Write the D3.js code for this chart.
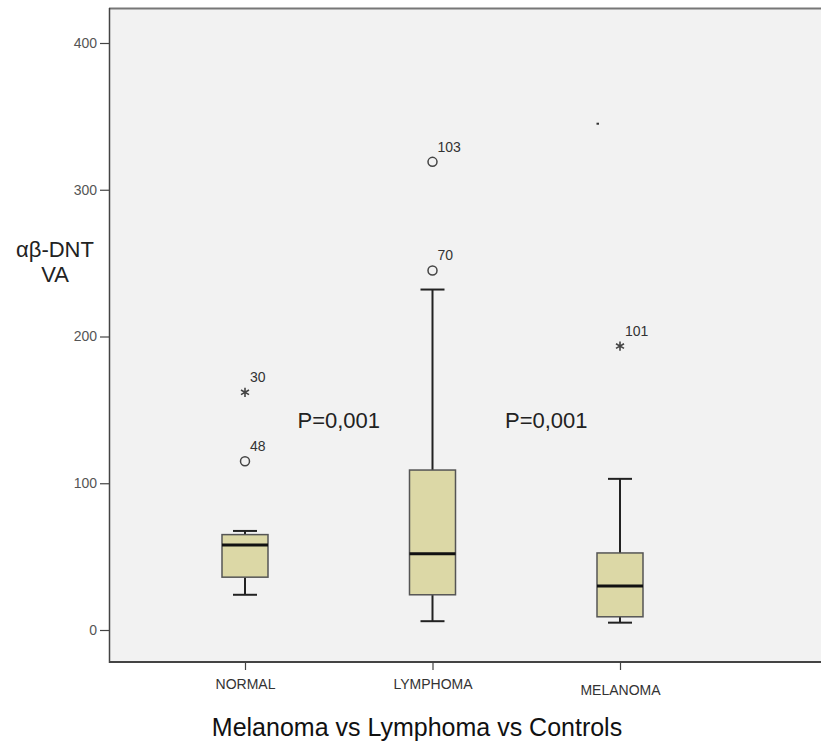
<!DOCTYPE html>
<html><head><meta charset="utf-8">
<script src="https://cdn.jsdelivr.net/npm/d3@7"></script>
<style>body{margin:0;background:#fff}svg{display:block}</style>
</head><body>
<svg id="c" width="821" height="748"></svg>
<script>
const categories = ["NORMAL", "LYMPHOMA", "MELANOMA"];
const whiskerLow = [24, 6, 5];
const q1 = [36, 24, 9];
const median = [58, 52, 30];
const q3 = [65, 109, 52.5];
const whiskerHigh = [67.5, 232, 103];
// outliers: category, value, type, case label
const outlierCat = ["NORMAL", "NORMAL", "LYMPHOMA", "LYMPHOMA", "MELANOMA"];
const outlierVal = [115, 162, 245, 319, 193.5];
const outlierType = ["circle", "star", "circle", "circle", "star"];
const outlierLabel = ["48", "30", "70", "103", "101"];
const strayCat = ["MELANOMA"];
const strayVal = [345];
const yTicks = [0, 100, 200, 300, 400];
const pLabels = ["P=0,001", "P=0,001"];

const FONT = "Arial, 'Liberation Sans', sans-serif";
const svg = d3.select("#c");
const x = d3.scalePoint().domain(categories).range([245, 620]);
const y = d3.scaleLinear().domain([0, 400]).range([630, 43]);

// plot area
svg.append("rect").attr("x", 109).attr("y", 8).attr("width", 730).attr("height", 654)
  .attr("fill", "#f2f2f2");
svg.append("line").attr("x1", 109).attr("x2", 821).attr("y1", 8.5).attr("y2", 8.5)
  .attr("stroke", "#777").attr("stroke-width", 2);
svg.append("line").attr("x1", 109).attr("x2", 821).attr("y1", 662).attr("y2", 662)
  .attr("stroke", "#444").attr("stroke-width", 2);
svg.append("line").attr("x1", 109.5).attr("x2", 109.5).attr("y1", 8).attr("y2", 663)
  .attr("stroke", "#444").attr("stroke-width", 1.5);

// y axis
const yAxis = svg.append("g").attr("transform", "translate(109,0)")
  .call(d3.axisLeft(y).tickValues(yTicks).tickSize(9).tickPadding(3));
yAxis.select(".domain").remove();
yAxis.selectAll("line").attr("stroke", "#444").attr("stroke-width", 1.2);
yAxis.selectAll("text").attr("font-family", FONT)
  .attr("font-size", 14).attr("fill", "#555");

// x axis
const xAxis = svg.append("g").attr("transform", "translate(0,662)")
  .call(d3.axisBottom(x).tickSize(8).tickPadding(9));
xAxis.select(".domain").remove();
xAxis.selectAll("line").attr("stroke", "#444").attr("stroke-width", 1.2);
xAxis.selectAll("text").attr("font-family", FONT)
  .attr("font-size", 14).attr("fill", "#333").attr("textLength", null);
xAxis.selectAll(".tick").filter(d => d === "MELANOMA").select("text").attr("dy", "1.15em");

// boxes
const bw = 46, cw = 24;
const g = svg.append("g");
categories.forEach((c, i) => {
  const cx = x(c);
  g.append("line").attr("x1", cx).attr("x2", cx).attr("y1", y(whiskerLow[i])).attr("y2", y(q1[i]))
    .attr("stroke", "#222").attr("stroke-width", 2);
  g.append("line").attr("x1", cx).attr("x2", cx).attr("y1", y(q3[i])).attr("y2", y(whiskerHigh[i]))
    .attr("stroke", "#222").attr("stroke-width", 2);
  g.append("line").attr("x1", cx - cw/2).attr("x2", cx + cw/2).attr("y1", y(whiskerLow[i])).attr("y2", y(whiskerLow[i]))
    .attr("stroke", "#222").attr("stroke-width", 2);
  g.append("line").attr("x1", cx - cw/2).attr("x2", cx + cw/2).attr("y1", y(whiskerHigh[i])).attr("y2", y(whiskerHigh[i]))
    .attr("stroke", "#222").attr("stroke-width", 2);
  g.append("rect").attr("x", cx - bw/2).attr("y", y(q3[i])).attr("width", bw)
    .attr("height", y(q1[i]) - y(q3[i])).attr("fill", "#dcd8a6").attr("stroke", "#555").attr("stroke-width", 1.5);
  g.append("line").attr("x1", cx - bw/2).attr("x2", cx + bw/2).attr("y1", y(median[i])).attr("y2", y(median[i]))
    .attr("stroke", "#111").attr("stroke-width", 3);
});

// outliers
outlierVal.forEach((v, i) => {
  const cx = x(outlierCat[i]), cy = y(v);
  if (outlierType[i] === "circle") {
    g.append("circle").attr("cx", cx).attr("cy", cy).attr("r", 4.5)
      .attr("fill", "none").attr("stroke", "#444").attr("stroke-width", 1.5);
  } else {
    g.append("path").attr("transform", `translate(${cx},${cy})`)
      .attr("d", d3.symbol(d3.symbolAsterisk, 60)())
      .attr("fill", "none").attr("stroke", "#444").attr("stroke-width", 1.6);
  }
  g.append("text").attr("x", cx + 5).attr("y", cy - 10).text(outlierLabel[i])
    .attr("font-family", FONT).attr("font-size", 14).attr("fill", "#333");
});
// stray tiny mark
strayVal.forEach((v, i) => {
  g.append("rect").attr("x", x(strayCat[i]) - 23.5).attr("y", y(v) - 1).attr("width", 2.5).attr("height", 2)
    .attr("fill", "#333");
});

// p labels between groups
const pPos = [[categories[0], categories[1]], [categories[1], categories[2]]];
const pShift = [0, 20];
pLabels.forEach((t, i) => {
  const mx = (x(pPos[i][0]) + x(pPos[i][1])) / 2;
  svg.append("text").attr("x", mx + pShift[i]).attr("y", 428).attr("text-anchor", "middle").text(t)
    .attr("font-family", FONT).attr("font-size", 22).attr("fill", "#222");
});

// y label
const yl = svg.append("text").attr("text-anchor", "middle")
  .attr("font-family", FONT).attr("font-size", 22).attr("fill", "#222");
yl.append("tspan").attr("x", 55).attr("y", 257).text("αβ-DNT");
yl.append("tspan").attr("x", 55).attr("y", 282).text("VA");

// title
svg.append("text").attr("x", 417).attr("y", 736).attr("text-anchor", "middle")
  .text("Melanoma vs Lymphoma vs Controls")
  .attr("font-family", FONT).attr("font-size", 25).attr("fill", "#111");
</script>
</body></html>
